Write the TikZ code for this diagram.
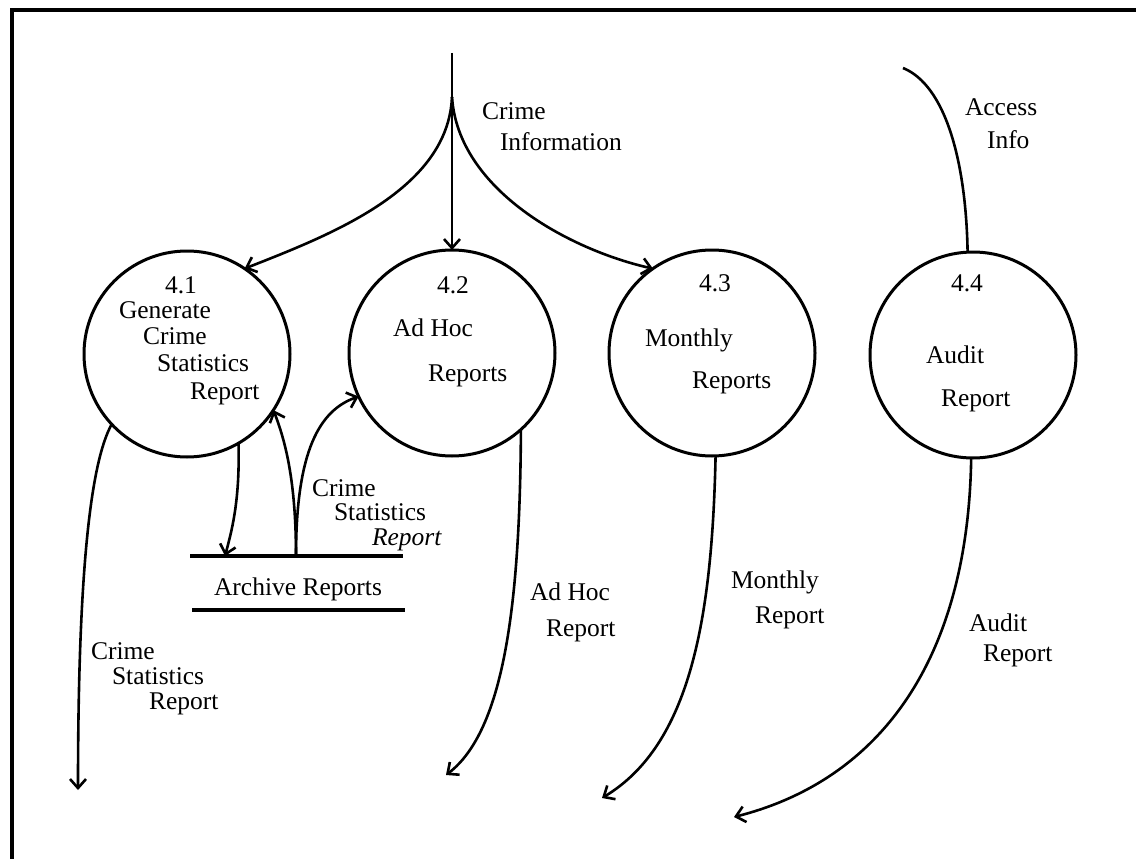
\documentclass[tikz,border=0pt]{standalone}
\usepackage{fontspec}
\setmainfont{Liberation Serif}
\usepackage{xcolor}
\usepackage{tikz}
\usetikzlibrary{positioning}
\usetikzlibrary{arrows.meta}

\begin{document}
\begin{tikzpicture}[x=1pt, y=-1pt,
                    process/.style = { circle, draw, black, line width = 3pt, minimum size = 206pt, inner sep=0pt, outer sep=0pt },
                    txt/.style = { anchor = west, inner sep=0pt, outer sep=0pt, text height = 15pt, text depth = 3pt, font = \fontsize{25.5}{30}\selectfont },
                    flow/.style = { line width = 2.6pt, -{Straight Barb[length=9pt, width=16pt, line width=2.6pt]} },
                    plain/.style = { line width = 2.6pt },
                    store/.style = { line width = 3.5pt },
                ]
                    \useasboundingbox (0,0) rectangle (1136,859);
                    \draw[line width=3.5pt] (12,859) -- (12,10) -- (1136,10);

                    \node[process] (P41) at (187,354) {};
                    \node[process] (P42) at (452,353) {};
                    \node[process] (P43) at (712,353) {};
                    \node[process] (P44) at (973,355) {};

                    \node[txt] (P41num) at (165,287) {4.1};
                    \node[txt] (P41a) at (119,312) {Generate};
                    \node[txt] (P41b) at (143,338) {Crime};
                    \node[txt] (P41c) at (157,365) {Statistics};
                    \node[txt] (P41d) at (190,393) {Report};
                    \node[txt] (P42num) at (437,287) {4.2};
                    \node[txt] (P42a) at (393,330) {Ad Hoc};
                    \node[txt] (P42b) at (428,375) {Reports};
                    \node[txt] (P43num) at (699,285) {4.3};
                    \node[txt] (P43a) at (645,340) {Monthly};
                    \node[txt] (P43b) at (692,382) {Reports};
                    \node[txt] (P44num) at (951,285) {4.4};
                    \node[txt] (P44a) at (926,357) {Audit};
                    \node[txt] (P44b) at (941,400) {Report};

                    % data store
                    \node[txt, anchor=center] (AR) at (298,589) {Archive Reports};
                    \coordinate (ARtl) at (190,556);
                    \coordinate (ARtr) at (403,556);
                    \coordinate (ARbl) at (192,610);
                    \coordinate (ARbr) at (405,610);
                    \coordinate (ARin) at (225,556);
                    \coordinate (ARout) at (296,556);
                    \draw[store] (ARtl) -- (ARtr);
                    \draw[store] (ARbl) -- (ARbr);

                    % flows
                    \coordinate (CIsrc) at (452,53);
                    \coordinate (CIsplit) at (452,97);
                    \coordinate (AIsrc) at (903,68);
                    \coordinate (CSRend) at (78,790);
                    \coordinate (AHend) at (446,775);
                    \coordinate (MRend) at (602,798);
                    \coordinate (AUend) at (734,817);

                    \draw[flow] (CIsrc) -- (P42.90);
                    \draw[flow] (CIsplit) .. controls (448,190) and (330,235) .. (P41.56);
                    \draw[flow] (CIsplit) .. controls (458,190) and (570,250) .. (P43.125);
                    \draw[plain] (P44.93) .. controls (966,160) and (945,85) .. (AIsrc);
                    \draw[flow] (P41.223) .. controls (92,460) and (78,560) .. (CSRend);
                    \draw[flow] (P41.-60) .. controls (240,500) and (232,530) .. (ARin);
                    \draw[flow] (ARout) .. controls (296,480) and (285,440) .. (P41.-33);
                    \draw[flow] (ARout) .. controls (296,450) and (320,410) .. (P42.205);
                    \draw[flow] (P42.-48) .. controls (520,600) and (505,730) .. (AHend);
                    \draw[flow] (P43.-88) .. controls (712,620) and (690,745) .. (MRend);
                    \draw[flow] (P44.-91) .. controls (968,660) and (880,780) .. (AUend);

                    \node[txt] (CIa) at (482,114) {Crime};
                    \node[txt] (CIb) at (500,144) {Information};
                    \node[txt] (AIa) at (965,109) {Access};
                    \node[txt] (AIb) at (987,142) {Info};
                    \node[txt] (CSa) at (91,653) {Crime};
                    \node[txt] (CSb) at (112,678) {Statistics};
                    \node[txt] (CSc) at (149,703) {Report};
                    \node[txt] (ASa) at (312,490) {Crime};
                    \node[txt] (ASb) at (334,514) {Statistics};
                    \node[txt] (ASc) at (372,539) {\itshape Report};
                    \node[txt] (AHa) at (530,594) {Ad Hoc};
                    \node[txt] (AHb) at (546,630) {Report};
                    \node[txt] (MRa) at (731,582) {Monthly};
                    \node[txt] (MRb) at (755,617) {Report};
                    \node[txt] (AUa) at (969,625) {Audit};
                    \node[txt] (AUb) at (983,655) {Report};
                \end{tikzpicture}
\end{document}
